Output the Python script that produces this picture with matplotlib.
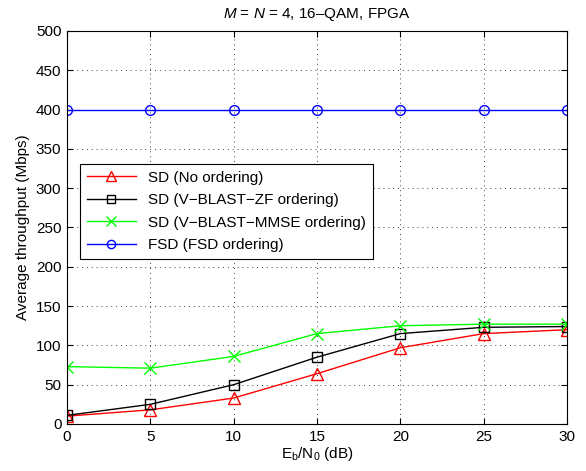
import matplotlib
matplotlib.use("Agg")
import matplotlib.pyplot as plt

plt.rcParams['font.family'] = ['Liberation Sans', 'DejaVu Sans']
plt.rcParams['mathtext.fontset'] = 'custom'
plt.rcParams['mathtext.rm'] = 'Liberation Sans'
plt.rcParams['mathtext.it'] = 'Liberation Sans:italic'

# data
snr_db = [0, 5, 10, 15, 20, 25, 30]
sd_no_order = [10, 18, 33, 64, 97, 115, 120]
sd_zf = [11, 25, 50, 85, 115, 123, 124]
sd_mmse = [73, 71, 86, 115, 125, 127, 127]
fsd = [400, 400, 400, 400, 400, 400, 400]

labels = ['SD (No ordering)', 'SD (V\u2212BLAST\u2212ZF ordering)',
          'SD (V\u2212BLAST\u2212MMSE ordering)', 'FSD (FSD ordering)']

fig = plt.figure(figsize=(5.86, 4.71), dpi=100)
ax = fig.add_axes([0.1143, 0.0998, 0.8533, 0.8344])

ax.plot(snr_db, sd_no_order, '-^', color='red', lw=1, ms=8, mfc='none', label=labels[0])
ax.plot(snr_db, sd_zf, '-s', color='black', lw=1, ms=7, mfc='none', label=labels[1])
ax.plot(snr_db, sd_mmse, '-x', color='#00ff00', lw=1, ms=8, mew=1, label=labels[2])
ax.plot(snr_db, fsd, '-o', color='blue', lw=1, ms=7, mfc='none', label=labels[3])

ax.set_xlim(0, 30)
ax.set_ylim(0, 500)
ax.set_xticks(range(0, 31, 5))
ax.set_yticks(range(0, 501, 50))
ax.tick_params(direction='in', top=True, right=True, labelsize=11, length=4, pad=4)
ax.grid(True, linestyle=(0, (1, 4)), color='0.25', linewidth=0.7)

ax.set_title('$M$ = $N$ = 4, 16\u2013QAM, FPGA', fontsize=11, pad=9)
ax.set_xlabel('E$_\\mathrm{b}$/N$_0$ (dB)', fontsize=11, labelpad=1)
ax.set_ylabel('Average throughput (Mbps)', fontsize=11, labelpad=4)

leg = ax.legend(loc='upper left', bbox_to_anchor=(0.026, 0.662), borderaxespad=0,
                fontsize=11, fancybox=False, framealpha=1, edgecolor='black',
                handlelength=3.2, borderpad=0.45, labelspacing=0.55, markerscale=0.85)
leg.get_frame().set_linewidth(0.8)

fig.savefig('out.png', dpi=100)
